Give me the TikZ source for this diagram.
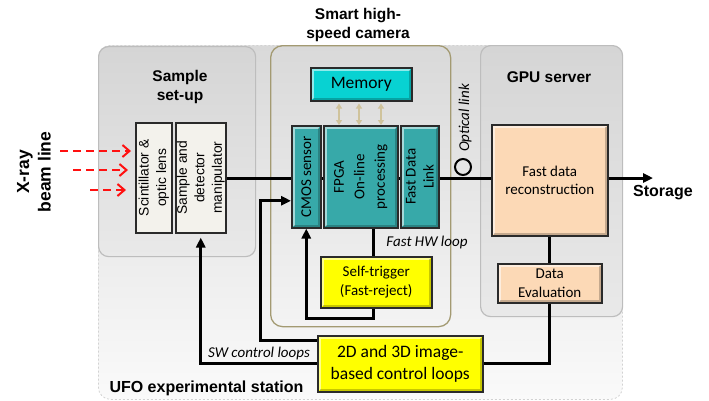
\documentclass[tikz,border=0pt]{standalone}
\usepackage{fontspec}
\setmainfont{Carlito}
\newfontfamily\arialf{Liberation Sans}
\usetikzlibrary{arrows.meta}
\newcommand\myfs[2]{\fontsize{#1}{#2}\selectfont}
\definecolor{frameg}{HTML}{BDBDBD}
\definecolor{grpTop}{HTML}{D5D5D5}
\definecolor{grpBot}{HTML}{E9E9E9}
\definecolor{outTop}{HTML}{D9D9D9}
\definecolor{outBot}{HTML}{FAFAFA}
\definecolor{camb}{HTML}{A39A72}
\definecolor{boxb}{HTML}{2A2A2A}
\definecolor{tealc}{HTML}{37A9A9}
\definecolor{memc}{HTML}{08D2D2}
\definecolor{tanc}{HTML}{CFC39C}
\definecolor{yelc}{HTML}{FFFF00}
\definecolor{peach}{HTML}{FCD9B6}
\definecolor{ivory}{HTML}{F3F2EC}
\definecolor{xred}{HTML}{FF1010}
\tikzset{
  grp/.style={draw=frameg, line width=1.2pt, rounded corners=10pt, top color=grpTop, bottom color=grpBot, inner sep=0pt, anchor=north west},
  box/.style={draw=boxb, line width=1.5pt, inner sep=0pt, anchor=north west},
  bevel/.style={path picture={
    \draw[white, opacity=0.55, line width=2.5pt]
      ([xshift=2pt,yshift=2pt]path picture bounding box.south west) --
      ([xshift=2pt,yshift=-2pt]path picture bounding box.north west) --
      ([xshift=-2pt,yshift=-2pt]path picture bounding box.north east);
    \draw[black, opacity=0.22, line width=2.5pt]
      ([xshift=-2pt,yshift=-2pt]path picture bounding box.north east) --
      ([xshift=-2pt,yshift=2pt]path picture bounding box.south east) --
      ([xshift=2pt,yshift=2pt]path picture bounding box.south west);
  }},
  conn/.style={line width=3pt, draw=black},
  tip/.style={-{Triangle[length=10pt,width=9pt]}},
  title/.style={font=\arialf\bfseries\myfs{15.5}{18.5}, align=center},
  lbl/.style={font=\myfs{15}{18}, align=center},
  ital/.style={font=\itshape\myfs{15}{18}},
  sidetxt/.style={font=\arialf\myfs{13.8}{17.5}, align=center, rotate=90},
  xarrow/.style={xred, line width=2pt, dash pattern=on 8pt off 5pt, -{Straight Barb[length=7pt,width=12pt]}},
  dbl/.style={tanc, line width=1.8pt, {Triangle[length=5pt,width=6pt]}-{Triangle[length=5pt,width=6pt]}}
}
\begin{document}
\begin{tikzpicture}[x=1pt,y=-1pt]
\useasboundingbox (0,0) rectangle (709,400);
% outer station
\node[draw=gray!35, line width=0.8pt, dash pattern=on 2pt off 2pt, rounded corners=12pt, top color=outTop, bottom color=outBot, inner sep=0pt, anchor=north west, minimum width=524pt, minimum height=354pt] (ufo) at (98,45) {};
\node[font=\arialf\bfseries\myfs{16}{19}, anchor=west] (ufot) at (106,388) {UFO experimental station};
% groups
\node[grp, minimum width=157pt, minimum height=210pt] (samp) at (98,46) {};
\node[title] (sampt) at (180,87) {Sample\\set-up};
\node[draw=camb, line width=1.3pt, rounded corners=12pt, inner sep=0pt, anchor=north west, minimum width=180pt, minimum height=281pt] (cam) at (270,45) {};
\node[title] (camt) at (358,25) {Smart high-\\speed camera};
\node[grp, minimum width=142pt, minimum height=271pt] (gpu) at (480,45) {};
\node[title] (gput) at (549,77) {GPU server};
% x-ray
\node[font=\arialf\bfseries\myfs{17.5}{21.5}, align=center, rotate=90] (xray) at (34,172) {X-ray\\beam line};
% boxes
\node[box, fill=ivory, minimum width=36pt, minimum height=110pt] (scint) at (135,122) {};
\node[sidetxt] (scintt) at (scint.center) {Scintillator \&\\optic lens};
\node[box, fill=ivory, minimum width=50pt, minimum height=110pt] (det) at (175,122) {};
\node[sidetxt] (dett) at (det.center) {Sample and\\detector\\manipulator};
\node[box, bevel, fill=memc, minimum width=101pt, minimum height=33pt] (mem) at (310,67) {};
\node[font=\myfs{17.5}{20}] (memt) at (mem.center) {Memory};
\node[box, bevel, fill=tealc, minimum width=29pt, minimum height=102pt] (cmos) at (291,125) {};
\node[lbl, rotate=90] (cmost) at (cmos.center) {CMOS sensor};
\node[box, bevel, fill=tealc, minimum width=74pt, minimum height=102pt] (fpga) at (323,125) {};
\node[lbl, rotate=90, font=\myfs{15}{20.5}] (fpgat) at (fpga.center) {FPGA\\On-line\\processing};
\node[box, bevel, fill=tealc, minimum width=38pt, minimum height=102pt] (fdl) at (400,125) {};
\node[lbl, rotate=90] (fdlt) at (fdl.center) {Fast Data\\Link};
\node[box, bevel, fill=peach, minimum width=116pt, minimum height=111pt] (recon) at (491,124) {};
\node[lbl] (recont) at (recon.center) {Fast data\\reconstruction};
\node[box, bevel, fill=peach, minimum width=104pt, minimum height=39pt] (deval) at (497,263) {};
\node[lbl, font=\myfs{15}{19}] (devalt) at (deval.center) {Data\\Evaluation};
\node[box, bevel, fill=yelc, minimum width=111pt, minimum height=51pt] (selft) at (320,256) {};
\node[lbl, font=\myfs{15}{19}] (selftt) at (selft.center) {Self-trigger\\(Fast-reject)};
\node[box, bevel, fill=yelc, minimum width=165pt, minimum height=56pt] (twod) at (317,335) {};
\node[lbl, font=\myfs{17.5}{22}] (twodt) at (twod.center) {2D and 3D image-\\based control loops};
% red x-ray arrows
\coordinate (r1) at (60,151);
\coordinate (r2) at (73,170);
\coordinate (r3) at (90,190);
\draw[xarrow, shorten >=4pt] (r1) -- (scint.west |- r1);
\draw[xarrow, shorten >=7pt] (r2) -- (scint.west |- r2);
\draw[xarrow, shorten >=9pt] (r3) -- (scint.west |- r3);
% beam line
\coordinate (beam) at (0,178);
\coordinate (stor) at (653,178);
\draw[conn] (det.east |- beam) -- (cmos.west |- beam);
\draw[conn] (cmos.east |- beam) -- (fpga.west |- beam);
\draw[conn] (fpga.east |- beam) -- (fdl.west |- beam);
\draw[conn] (fdl.east |- beam) -- (recon.west |- beam);
\draw[conn, tip] (recon.east |- beam) -- (stor);
\node[font=\arialf\bfseries\myfs{16}{19}] (stort) at (663,193) {Storage};
\node[circle, draw=black, line width=2pt, minimum size=16pt, inner sep=0pt] (oc) at (463,167) {};
\node[ital, rotate=90] (optt) at (465,118) {Optical link};
% memory arrows
\foreach \x in {339,359,381} {
  \coordinate (ma) at (\x,102);
  \draw[dbl] (mem.south -| ma) ++(0,2) -- (fpga.north -| ma);
}
% fast HW loop
\coordinate (hwx) at (373,0);
\draw[conn] (fpga.south -| hwx) -- (selft.north -| hwx);
\draw[conn, tip] (selft.south -| hwx) -- ++(0,10) -| (cmos.south);
\node[ital] (hwt) at (427,242) {Fast HW loop};
% GPU chain
\coordinate (gx) at (549,0);
\draw[conn] (recon.south -| gx) -- (deval.north -| gx);
\draw[conn] (deval.south -| gx) |- (twod.east);
% SW loops
\draw[conn, tip] ([yshift=-5pt]twod.north west) -- ++(-57,0) |- ([yshift=-24pt]cmos.west);
\draw[conn, tip, shorten >=4pt] (twod.west) -| (det.south);
\node[ital] (swt) at (259,353) {SW control loops};
\end{tikzpicture}
\end{document}
